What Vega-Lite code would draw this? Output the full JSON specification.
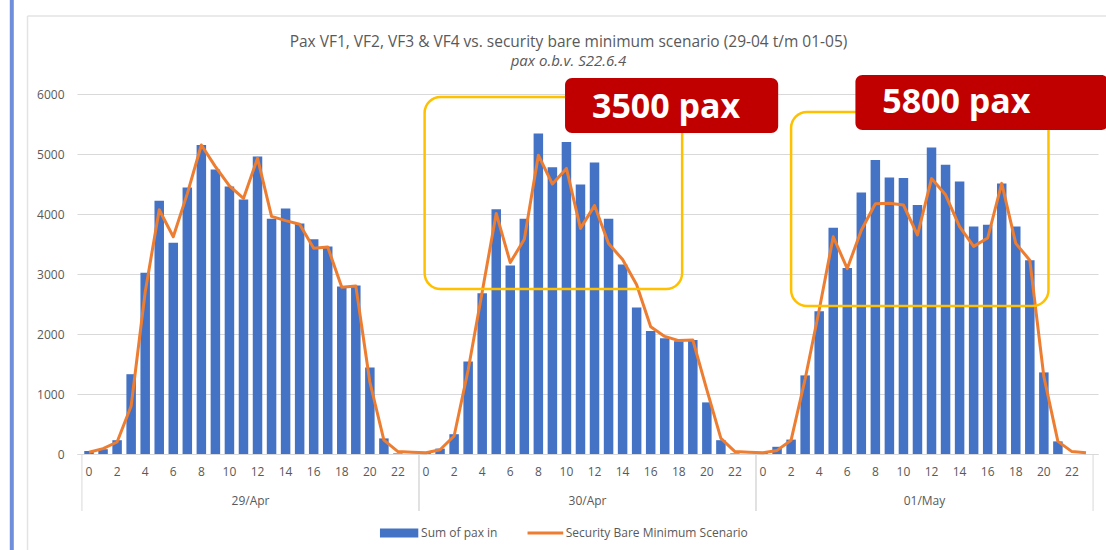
{
  "$schema": "https://vega.github.io/schema/vega-lite/v6.json",
  "width": 1021,
  "height": 360,
  "autosize": "none",
  "padding": {"left": 77, "top": 94, "right": 8, "bottom": 96},
  "background": "white",
  "config": {"view": {"stroke": null}, "font": "Open Sans"},
  "title": {
    "text": "Pax VF1, VF2, VF3 & VF4 vs. security bare minimum scenario (29-04 t/m 01-05)",
    "subtitle": "pax o.b.v. S22.6.4",
    "anchor": "middle",
    "dx": -19,
    "fontSize": 15.5,
    "fontWeight": "normal",
    "color": "#595959",
    "subtitleFontSize": 15,
    "subtitleFontStyle": "italic",
    "subtitleColor": "#595959",
    "subtitlePadding": 4,
    "offset": -91
  },
  "data": {
    "values": [
      {"t": 0, "day": "29/Apr", "hour": 0, "pax": 50, "scenario": 30},
      {"t": 1, "day": "29/Apr", "hour": 1, "pax": 80, "scenario": 90},
      {"t": 2, "day": "29/Apr", "hour": 2, "pax": 230, "scenario": 200},
      {"t": 3, "day": "29/Apr", "hour": 3, "pax": 1330, "scenario": 800},
      {"t": 4, "day": "29/Apr", "hour": 4, "pax": 3020, "scenario": 2700},
      {"t": 5, "day": "29/Apr", "hour": 5, "pax": 4220, "scenario": 4070},
      {"t": 6, "day": "29/Apr", "hour": 6, "pax": 3520, "scenario": 3620},
      {"t": 7, "day": "29/Apr", "hour": 7, "pax": 4440, "scenario": 4340},
      {"t": 8, "day": "29/Apr", "hour": 8, "pax": 5150, "scenario": 5150},
      {"t": 9, "day": "29/Apr", "hour": 9, "pax": 4740, "scenario": 4790},
      {"t": 10, "day": "29/Apr", "hour": 10, "pax": 4460, "scenario": 4470},
      {"t": 11, "day": "29/Apr", "hour": 11, "pax": 4240, "scenario": 4260},
      {"t": 12, "day": "29/Apr", "hour": 12, "pax": 4960, "scenario": 4930},
      {"t": 13, "day": "29/Apr", "hour": 13, "pax": 3920, "scenario": 3960},
      {"t": 14, "day": "29/Apr", "hour": 14, "pax": 4090, "scenario": 3890},
      {"t": 15, "day": "29/Apr", "hour": 15, "pax": 3840, "scenario": 3830},
      {"t": 16, "day": "29/Apr", "hour": 16, "pax": 3580, "scenario": 3430},
      {"t": 17, "day": "29/Apr", "hour": 17, "pax": 3460, "scenario": 3450},
      {"t": 18, "day": "29/Apr", "hour": 18, "pax": 2790, "scenario": 2780},
      {"t": 19, "day": "29/Apr", "hour": 19, "pax": 2810, "scenario": 2800},
      {"t": 20, "day": "29/Apr", "hour": 20, "pax": 1440, "scenario": 1200},
      {"t": 21, "day": "29/Apr", "hour": 21, "pax": 260, "scenario": 230},
      {"t": 22, "day": "29/Apr", "hour": 22, "pax": 10, "scenario": 40},
      {"t": 23, "day": "29/Apr", "hour": 23, "pax": 0, "scenario": 30},
      {"t": 24, "day": "30/Apr", "hour": 0, "pax": 20, "scenario": 20},
      {"t": 25, "day": "30/Apr", "hour": 1, "pax": 90, "scenario": 70},
      {"t": 26, "day": "30/Apr", "hour": 2, "pax": 330, "scenario": 300},
      {"t": 27, "day": "30/Apr", "hour": 3, "pax": 1540, "scenario": 1400},
      {"t": 28, "day": "30/Apr", "hour": 4, "pax": 2680, "scenario": 2700},
      {"t": 29, "day": "30/Apr", "hour": 5, "pax": 4080, "scenario": 4010},
      {"t": 30, "day": "30/Apr", "hour": 6, "pax": 3140, "scenario": 3190},
      {"t": 31, "day": "30/Apr", "hour": 7, "pax": 3920, "scenario": 3580},
      {"t": 32, "day": "30/Apr", "hour": 8, "pax": 5340, "scenario": 4980},
      {"t": 33, "day": "30/Apr", "hour": 9, "pax": 4780, "scenario": 4500},
      {"t": 34, "day": "30/Apr", "hour": 10, "pax": 5200, "scenario": 4760},
      {"t": 35, "day": "30/Apr", "hour": 11, "pax": 4490, "scenario": 3760},
      {"t": 36, "day": "30/Apr", "hour": 12, "pax": 4860, "scenario": 4140},
      {"t": 37, "day": "30/Apr", "hour": 13, "pax": 3920, "scenario": 3510},
      {"t": 38, "day": "30/Apr", "hour": 14, "pax": 3160, "scenario": 3240},
      {"t": 39, "day": "30/Apr", "hour": 15, "pax": 2440, "scenario": 2820},
      {"t": 40, "day": "30/Apr", "hour": 16, "pax": 2050, "scenario": 2120},
      {"t": 41, "day": "30/Apr", "hour": 17, "pax": 1930, "scenario": 1960},
      {"t": 42, "day": "30/Apr", "hour": 18, "pax": 1880, "scenario": 1890},
      {"t": 43, "day": "30/Apr", "hour": 19, "pax": 1900, "scenario": 1900},
      {"t": 44, "day": "30/Apr", "hour": 20, "pax": 860, "scenario": 1070},
      {"t": 45, "day": "30/Apr", "hour": 21, "pax": 230, "scenario": 260},
      {"t": 46, "day": "30/Apr", "hour": 22, "pax": 10, "scenario": 40},
      {"t": 47, "day": "30/Apr", "hour": 23, "pax": 0, "scenario": 30},
      {"t": 48, "day": "01/May", "hour": 0, "pax": 20, "scenario": 20},
      {"t": 49, "day": "01/May", "hour": 1, "pax": 120, "scenario": 60},
      {"t": 50, "day": "01/May", "hour": 2, "pax": 240, "scenario": 230},
      {"t": 51, "day": "01/May", "hour": 3, "pax": 1310, "scenario": 1250},
      {"t": 52, "day": "01/May", "hour": 4, "pax": 2380, "scenario": 2400},
      {"t": 53, "day": "01/May", "hour": 5, "pax": 3770, "scenario": 3620},
      {"t": 54, "day": "01/May", "hour": 6, "pax": 3100, "scenario": 3090},
      {"t": 55, "day": "01/May", "hour": 7, "pax": 4360, "scenario": 3730},
      {"t": 56, "day": "01/May", "hour": 8, "pax": 4900, "scenario": 4170},
      {"t": 57, "day": "01/May", "hour": 9, "pax": 4610, "scenario": 4180},
      {"t": 58, "day": "01/May", "hour": 10, "pax": 4600, "scenario": 4150},
      {"t": 59, "day": "01/May", "hour": 11, "pax": 4150, "scenario": 3650},
      {"t": 60, "day": "01/May", "hour": 12, "pax": 5110, "scenario": 4590},
      {"t": 61, "day": "01/May", "hour": 13, "pax": 4820, "scenario": 4320},
      {"t": 62, "day": "01/May", "hour": 14, "pax": 4540, "scenario": 3790},
      {"t": 63, "day": "01/May", "hour": 15, "pax": 3790, "scenario": 3460},
      {"t": 64, "day": "01/May", "hour": 16, "pax": 3820, "scenario": 3600},
      {"t": 65, "day": "01/May", "hour": 17, "pax": 4510, "scenario": 4510},
      {"t": 66, "day": "01/May", "hour": 18, "pax": 3790, "scenario": 3510},
      {"t": 67, "day": "01/May", "hour": 19, "pax": 3230, "scenario": 3230},
      {"t": 68, "day": "01/May", "hour": 20, "pax": 1360, "scenario": 1290},
      {"t": 69, "day": "01/May", "hour": 21, "pax": 210, "scenario": 210},
      {"t": 70, "day": "01/May", "hour": 22, "pax": 0, "scenario": 40},
      {"t": 71, "day": "01/May", "hour": 23, "pax": 0, "scenario": 20}
    ]
  },
  "layer": [
    {
      "mark": {"type": "bar", "size": 9.5, "color": "#4472c4"},
      "encoding": {
        "x": {
          "field": "t",
          "type": "quantitative",
          "scale": {"domain": [-0.5, 71.5], "nice": false, "zero": false},
          "axis": {
            "title": null,
            "labels": false,
            "grid": false,
            "ticks": false,
            "domain": true,
            "domainColor": "#d9d9d9"
          }
        },
        "y": {
          "field": "pax",
          "type": "quantitative",
          "scale": {"domain": [0, 6000], "nice": false},
          "axis": {
            "title": null,
            "values": [0, 1000, 2000, 3000, 4000, 5000, 6000],
            "format": "d",
            "domain": false,
            "ticks": false,
            "gridColor": "#d9d9d9",
            "labelColor": "#595959",
            "labelFontSize": 12,
            "labelPadding": 13
          }
        }
      }
    },
    {
      "mark": {"type": "line", "strokeWidth": 3, "strokeJoin": "round", "color": "#ed7d31"},
      "encoding": {
        "x": {"field": "t", "type": "quantitative"},
        "y": {"field": "scenario", "type": "quantitative"}
      }
    },
    {
      "transform": [{"filter": "datum.hour % 2 == 0"}],
      "mark": {"type": "text", "fontSize": 12, "color": "#595959", "baseline": "middle", "clip": false},
      "encoding": {
        "x": {"field": "t", "type": "quantitative"},
        "y": {"datum": -300, "type": "quantitative"},
        "text": {"field": "hour"}
      }
    },
    {
      "transform": [{"aggregate": [{"op": "min", "field": "t", "as": "lo"}], "groupby": ["day"]}],
      "mark": {"type": "rule", "color": "#d9d9d9", "strokeWidth": 1, "xOffset": -7.09, "clip": false},
      "encoding": {
        "x": {"field": "lo", "type": "quantitative"},
        "y": {"datum": 0, "type": "quantitative"},
        "y2": {"datum": -950}
      }
    },
    {
      "transform": [{"aggregate": [{"op": "max", "field": "t", "as": "hi"}], "groupby": ["day"]}],
      "mark": {"type": "rule", "color": "#d9d9d9", "strokeWidth": 1, "xOffset": 7.09, "clip": false},
      "encoding": {
        "x": {"field": "hi", "type": "quantitative"},
        "y": {"datum": 0, "type": "quantitative"},
        "y2": {"datum": -950}
      }
    },
    {
      "transform": [{"aggregate": [{"op": "mean", "field": "t", "as": "mid"}], "groupby": ["day"]}],
      "mark": {"type": "text", "fontSize": 12, "color": "#595959", "clip": false},
      "encoding": {
        "x": {"field": "mid", "type": "quantitative"},
        "y": {"datum": -780, "type": "quantitative"},
        "text": {"field": "day"}
      }
    },
    {
      "data": {"values": [{}]},
      "mark": {"type": "rect", "fill": "#4472c4", "clip": false},
      "encoding": {
        "x": {"datum": 20.72, "type": "quantitative"},
        "x2": {"datum": 23.45},
        "y": {"datum": -1240, "type": "quantitative"},
        "y2": {"datum": -1390}
      }
    },
    {
      "data": {"values": [{"label": "Sum of pax in"}]},
      "mark": {"type": "text", "fontSize": 12, "color": "#595959", "align": "left", "baseline": "middle", "clip": false},
      "encoding": {
        "x": {"datum": 23.65, "type": "quantitative"},
        "y": {"datum": -1317, "type": "quantitative"},
        "text": {"field": "label"}
      }
    },
    {
      "data": {"values": [{}]},
      "mark": {"type": "rule", "color": "#ed7d31", "strokeWidth": 3, "clip": false},
      "encoding": {
        "x": {"datum": 31.23, "type": "quantitative"},
        "x2": {"datum": 33.77},
        "y": {"datum": -1317, "type": "quantitative"}
      }
    },
    {
      "data": {"values": [{"label": "Security Bare Minimum Scenario"}]},
      "mark": {"type": "text", "fontSize": 12, "color": "#595959", "align": "left", "baseline": "middle", "clip": false},
      "encoding": {
        "x": {"datum": 33.95, "type": "quantitative"},
        "y": {"datum": -1317, "type": "quantitative"},
        "text": {"field": "label"}
      }
    },
    {
      "data": {"values": [{}]},
      "mark": {"type": "rect", "filled": false, "stroke": "#ffc000", "strokeWidth": 2.5, "cornerRadius": 16, "clip": false},
      "encoding": {
        "x": {"datum": 23.9, "type": "quantitative"},
        "x2": {"datum": 42.24},
        "y": {"datum": 5950, "type": "quantitative"},
        "y2": {"datum": 2750}
      }
    },
    {
      "data": {"values": [{}]},
      "mark": {"type": "rect", "filled": false, "stroke": "#ffc000", "strokeWidth": 2.5, "cornerRadius": 16, "clip": false},
      "encoding": {
        "x": {"datum": 50.0, "type": "quantitative"},
        "x2": {"datum": 68.33},
        "y": {"datum": 5700, "type": "quantitative"},
        "y2": {"datum": 2467}
      }
    },
    {
      "data": {"values": [{}]},
      "mark": {"type": "rect", "fill": "#c00000", "cornerRadius": 7, "clip": false},
      "encoding": {
        "x": {"datum": 33.9, "type": "quantitative"},
        "x2": {"datum": 49.08},
        "y": {"datum": 6267, "type": "quantitative"},
        "y2": {"datum": 5350}
      }
    },
    {
      "data": {"values": [{}]},
      "mark": {"type": "rect", "fill": "#c00000", "cornerRadius": 7, "clip": false},
      "encoding": {
        "x": {"datum": 54.58, "type": "quantitative"},
        "x2": {"datum": 72.6},
        "y": {"datum": 6317, "type": "quantitative"},
        "y2": {"datum": 5400}
      }
    },
    {
      "data": {"values": [{"label": "3500 pax"}]},
      "mark": {"type": "text", "font": "Open Sans", "fontWeight": "bold", "fontSize": 34, "color": "white", "baseline": "middle", "clip": false},
      "encoding": {
        "x": {"datum": 41.1, "type": "quantitative"},
        "y": {"datum": 5767, "type": "quantitative"},
        "text": {"field": "label"}
      }
    },
    {
      "data": {"values": [{"label": "5800 pax"}]},
      "mark": {"type": "text", "font": "Open Sans", "fontWeight": "bold", "fontSize": 34, "color": "white", "baseline": "middle", "clip": false},
      "encoding": {
        "x": {"datum": 61.77, "type": "quantitative"},
        "y": {"datum": 5850, "type": "quantitative"},
        "text": {"field": "label"}
      }
    },
    {
      "data": {"values": [{}]},
      "mark": {"type": "rule", "color": "#e3e3e3", "strokeWidth": 1.5, "clip": false},
      "encoding": {
        "x": {"datum": -4.38, "type": "quantitative"},
        "y": {"datum": 7300, "type": "quantitative"},
        "y2": {"datum": -1700}
      }
    },
    {
      "data": {"values": [{}]},
      "mark": {"type": "rule", "color": "#e3e3e3", "strokeWidth": 1.5, "clip": false},
      "encoding": {
        "x": {"datum": -4.38, "type": "quantitative"},
        "x2": {"datum": 72.6},
        "y": {"datum": 7300, "type": "quantitative"}
      }
    },
    {
      "data": {"values": [{}]},
      "mark": {"type": "rule", "color": "#6f8fdc", "strokeWidth": 4, "clip": false},
      "encoding": {
        "x": {"datum": -5.5, "type": "quantitative"},
        "y": {"datum": 7900, "type": "quantitative"},
        "y2": {"datum": -1700}
      }
    }
  ]
}
